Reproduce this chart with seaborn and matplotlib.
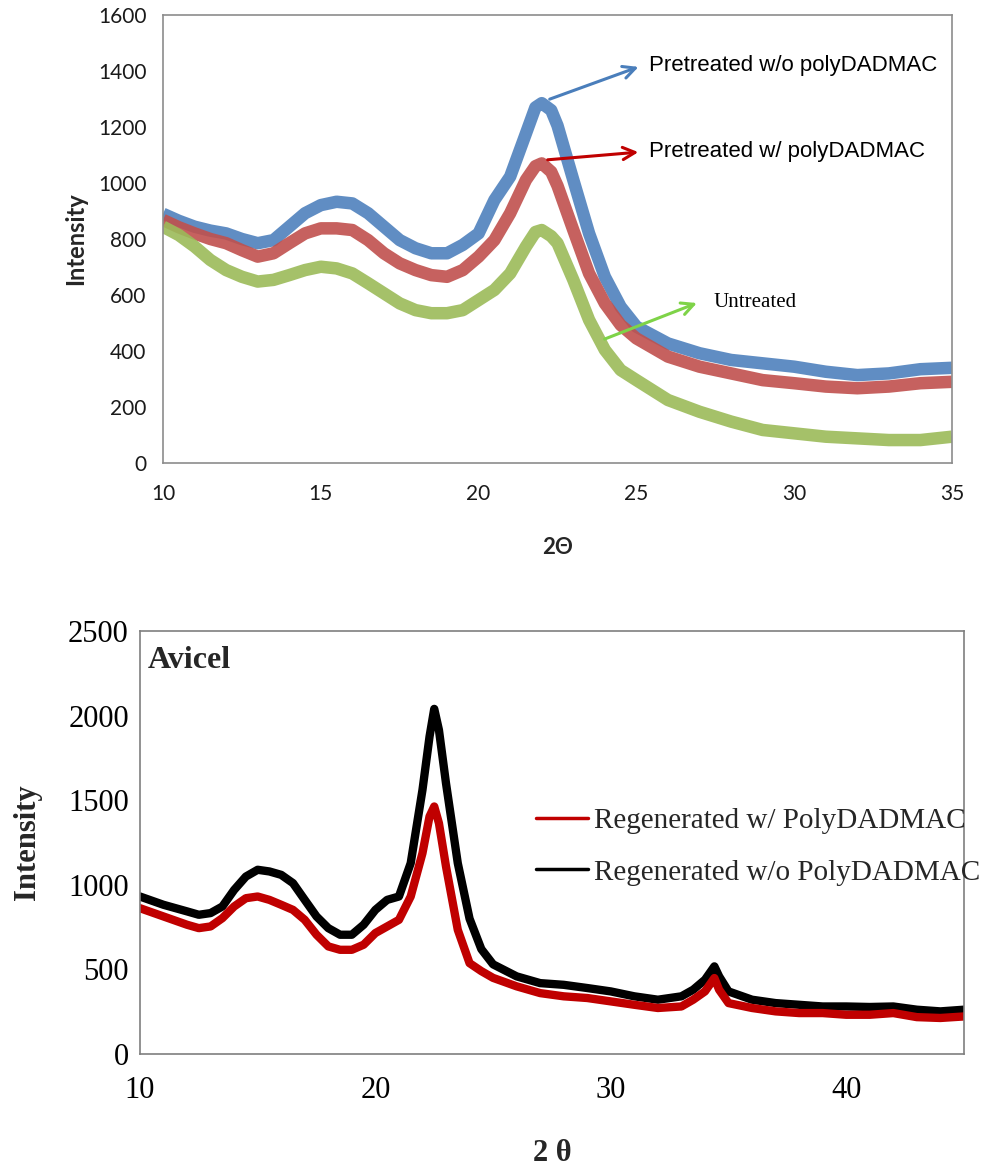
import numpy as np
import pandas as pd
import matplotlib
matplotlib.use("Agg")
import matplotlib.pyplot as plt
import seaborn as sns
from matplotlib.lines import Line2D

# ---------------- Top panel data ----------------
top_x = [10, 10.5, 11, 11.5, 12, 12.5, 13, 13.5, 14, 14.5, 15, 15.5, 16, 16.5, 17, 17.5,
         18, 18.5, 19, 19.5, 20, 20.5, 21, 21.5, 21.8, 22, 22.3, 22.5, 23, 23.5, 24, 24.5, 25,
         26, 27, 28, 29, 30, 31, 32, 33, 34, 35]
blue_wo = [890, 865, 844, 830, 820, 800, 785, 796, 844, 892, 921, 933, 927, 892, 844, 796,
           767, 749, 749, 779, 820, 939, 1023, 1177, 1270, 1285, 1260, 1205, 1011, 820, 665, 558, 487,
           427, 392, 368, 356, 344, 326, 314, 320, 335, 340]
red_w = [868, 842, 820, 800, 785, 760, 737, 749, 785, 820, 838, 838, 832, 796, 749, 713,
         689, 671, 665, 689, 737, 796, 892, 1011, 1060, 1070, 1040, 990, 832, 677, 570, 493, 445,
         380, 344, 320, 296, 285, 273, 267, 273, 285, 290]
green_un = [844, 814, 773, 725, 689, 665, 648, 654, 671, 689, 701, 695, 677, 642, 606, 570,
            546, 535, 535, 546, 582, 618, 677, 773, 825, 832, 810, 785, 654, 511, 404, 332, 296,
            225, 183, 148, 118, 106, 94, 88, 82, 82, 94]
top_names = ["Pretreated w/o polyDADMAC", "Pretreated w/ polyDADMAC", "Untreated"]
top_colors = ["#4f81bd", "#c0504d", "#9bbb59"]
arrow_colors = ["#4a7ebb", "#c00000", "#7ed348"]

# ---------------- Bottom panel data ----------------
bot_x = [10, 11, 12, 12.5, 13, 13.5, 14, 14.5, 15, 15.5, 16, 16.5, 17, 17.5, 18, 18.5, 19,
         19.5, 20, 20.5, 21, 21.5, 22, 22.3, 22.5, 22.7, 23, 23.5, 24, 24.5, 25, 26, 27,
         28, 29, 30, 31, 32, 33, 33.5, 34, 34.4, 34.6, 35, 36, 37, 38, 39, 40, 41, 42,
         43, 44, 45]
black_wo = [931, 882, 843, 823, 833, 872, 970, 1049, 1089, 1079, 1059, 1010, 911, 813, 744,
            705, 705, 764, 852, 911, 931, 1128, 1561, 1876, 2040, 1915, 1600, 1128, 800,
            620, 530, 459, 419, 409, 390, 370, 341, 321, 341, 380, 439, 518, 459, 370,
            321, 301, 291, 281, 281, 278, 281, 262, 252, 262]
red_w_bot = [862, 813, 764, 744, 754, 803, 872, 921, 931, 911, 882, 852, 793, 705, 636,
             616, 616, 646, 715, 754, 793, 931, 1187, 1404, 1463, 1364, 1108, 734, 537,
             490, 450, 400, 360, 341, 331, 311, 291, 272, 281, 321, 370, 449, 380, 301,
             272, 252, 242, 242, 232, 232, 242, 218, 213, 222]
bot_names = ["Regenerated w/ PolyDADMAC", "Regenerated w/o PolyDADMAC"]
bot_colors = ["#c00000", "#000000"]

# ---------------- Figure ----------------
sns.set_theme(style="white")
plt.rcParams["font.family"] = ["Lato", "DejaVu Sans"]

fig = plt.figure(figsize=(9.85, 11.71), dpi=100)
ax1 = fig.add_axes([0.1655, 0.6046, 0.801, 0.3826])
ax2 = fig.add_axes([0.1421, 0.0999, 0.8365, 0.3612])

# ---- Top panel ----
top_series = [blue_wo, red_w, green_un]
for name, vals, col in zip(top_names, top_series, top_colors):
    df = pd.DataFrame({"x": top_x, "y": vals})
    sns.lineplot(data=df, x="x", y="y", ax=ax1, color=col, linewidth=9,
                 alpha=0.9, solid_joinstyle="round", solid_capstyle="butt")

ax1.set_xlim(10, 35)
ax1.set_ylim(0, 1600)
ax1.set_xticks([10, 15, 20, 25, 30, 35])
ax1.set_yticks(range(0, 1601, 200))
ax1.tick_params(axis="both", length=0, labelsize=15, colors="#1a1a1a", pad=12)
for lab in ax1.get_xticklabels() + ax1.get_yticklabels():
    lab.set_family(["Lato", "DejaVu Sans"])
ax1.tick_params(axis="x", pad=15)
ax1.set_xlabel("2Θ", fontsize=16, fontweight="bold", family=["Lato", "DejaVu Sans"], labelpad=24)
ax1.set_ylabel("Intensity", fontsize=17, fontweight="bold", family=["Lato", "DejaVu Sans"], labelpad=8)
for sp in ax1.spines.values():
    sp.set_color("#8c8c8c")
    sp.set_linewidth(1.2)

arrow_specs = [((22.17, 1296), (25.15, 1418), (25.4, 1418), "Liberation Sans", 16),
               ((22.1, 1082), (25.15, 1111), (25.4, 1111), "Liberation Sans", 16),
               ((23.91, 439), (27.0, 575), (27.43, 575), "Liberation Serif", 15)]
for (start, end, tpos, fam, fs), name, acol in zip(arrow_specs, top_names, arrow_colors):
    ax1.annotate("", xy=end, xytext=start,
                 arrowprops=dict(arrowstyle="->", color=acol, lw=2.2, mutation_scale=22))
    ax1.text(tpos[0], tpos[1], name, fontsize=fs, family=fam, color="black",
             va="center", ha="left")

# ---- Bottom panel ----
for name, vals, col in [(bot_names[1], black_wo, bot_colors[1]), (bot_names[0], red_w_bot, bot_colors[0])]:
    df = pd.DataFrame({"x": bot_x, "y": vals})
    sns.lineplot(data=df, x="x", y="y", ax=ax2, color=col, linewidth=6,
                 solid_joinstyle="round")

ax2.set_xlim(10, 45)
ax2.set_ylim(0, 2500)
ax2.set_xticks([10, 20, 30, 40])
ax2.set_yticks(range(0, 2501, 500))
ax2.tick_params(axis="both", length=0, labelsize=22, colors="black")
ax2.tick_params(axis="x", pad=16)
ax2.tick_params(axis="y", pad=8)
for lab in ax2.get_xticklabels() + ax2.get_yticklabels():
    lab.set_family("Liberation Serif")
ax2.set_xlabel("2 θ", fontsize=22, fontweight="bold", family="Liberation Serif", labelpad=24)
ax2.set_ylabel("Intensity", fontsize=22, fontweight="bold", family="Liberation Serif", labelpad=19)
for sp in ax2.spines.values():
    sp.set_color("#7f7f7f")
    sp.set_linewidth(1.2)
ax2.text(0.01, 0.965, "Avicel", transform=ax2.transAxes, fontsize=23, fontweight="bold",
         family="Liberation Serif", va="top", ha="left")

handles = [Line2D([0], [0], color=c, lw=2.5) for c in bot_colors]
leg = ax2.legend(handles, bot_names, loc="center left", bbox_to_anchor=(0.466, 0.49),
                 frameon=False, prop={"family": "Liberation Serif", "size": 21},
                 handlelength=1.8, handletextpad=0.2, labelspacing=0.85, borderaxespad=0)

fig.savefig("out.png", dpi=100)
